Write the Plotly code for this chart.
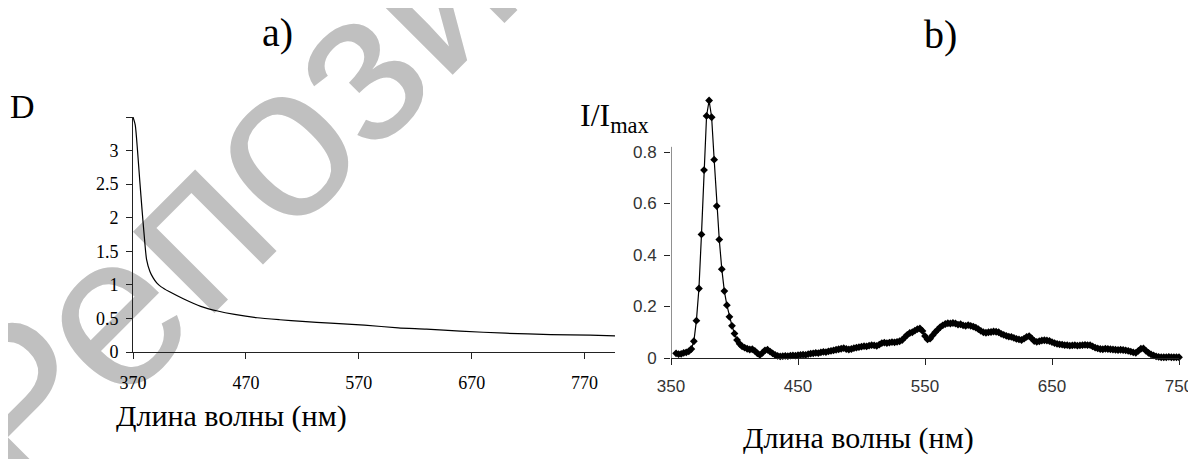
import plotly.graph_objects as go

# page body has an 8px margin: offset everything so it lands where intended
OFF = 8
W, H = 1196 - OFF, 459 - OFF

# ---- panel a) absorption ----
wl_a = [370, 372, 374, 376, 378, 380, 382, 385, 388, 391,
        395, 402, 415, 430, 445, 460, 480, 500, 520, 545,
        575, 605, 630, 660, 700, 740, 775, 797]
d_a = [3.5, 3.38, 3.0, 2.55, 2.12, 1.72, 1.38, 1.2, 1.1, 1.03,
       0.97, 0.90, 0.79, 0.68, 0.61, 0.56, 0.51, 0.48, 0.455, 0.43,
       0.40, 0.36, 0.34, 0.31, 0.28, 0.26, 0.25, 0.24]
ticks_a_x = [370, 470, 570, 670, 770]
ticks_a_y = [0, 0.5, 1, 1.5, 2, 2.5, 3, 3.5]
labels_a_y = ["0", "0.5", "1", "1.5", "2", "2.5", "3", ""]

# ---- panel b) luminescence ----
wl_b = list(range(354, 751, 2))
i_b = [
    0.018, 0.015, 0.016, 0.020, 0.022, 0.026, 0.035, 0.065, 0.145, 0.270,
    0.480, 0.730, 0.940, 1.000, 0.935, 0.770, 0.590, 0.460, 0.345, 0.260,
    0.205, 0.160, 0.125, 0.095, 0.070, 0.055, 0.045, 0.040, 0.036, 0.033,
    0.034, 0.028, 0.018, 0.012, 0.020, 0.030, 0.032, 0.025, 0.018, 0.012,
    0.008, 0.006, 0.007, 0.008, 0.007, 0.009, 0.010, 0.009, 0.011, 0.012,
    0.013, 0.012, 0.015, 0.017, 0.018, 0.020, 0.019, 0.022, 0.024, 0.023,
    0.026, 0.028, 0.030, 0.032, 0.034, 0.036, 0.038, 0.035, 0.033, 0.035,
    0.038, 0.040, 0.042, 0.044, 0.046, 0.045, 0.048, 0.050, 0.049, 0.047,
    0.052, 0.058, 0.060, 0.058, 0.060, 0.062, 0.061, 0.063, 0.065, 0.070,
    0.080, 0.090, 0.097, 0.100, 0.106, 0.112, 0.115, 0.105, 0.085, 0.072,
    0.075, 0.088, 0.100, 0.110, 0.120, 0.127, 0.132, 0.135, 0.134, 0.136,
    0.134, 0.130, 0.131, 0.127, 0.125, 0.128, 0.125, 0.122, 0.118, 0.112,
    0.105, 0.100, 0.098, 0.100, 0.101, 0.103, 0.102, 0.100, 0.094, 0.090,
    0.086, 0.083, 0.082, 0.078, 0.074, 0.072, 0.070, 0.075, 0.082, 0.085,
    0.076, 0.066, 0.063, 0.065, 0.068, 0.069, 0.068, 0.066, 0.062, 0.058,
    0.055, 0.053, 0.052, 0.050, 0.050, 0.048, 0.049, 0.050, 0.048, 0.049,
    0.050, 0.051, 0.050, 0.050, 0.045, 0.040, 0.037, 0.035, 0.034, 0.036,
    0.035, 0.034, 0.033, 0.032, 0.031, 0.032, 0.031, 0.030, 0.028, 0.025,
    0.022, 0.020, 0.028, 0.036, 0.037, 0.028, 0.020, 0.014, 0.010, 0.006,
    0.004, 0.003, 0.003, 0.003, 0.004, 0.003, 0.003, 0.003, 0.003,
]
assert len(wl_b) == len(i_b)
ticks_b_x = [350, 450, 550, 650, 750]
ticks_b_y = [0, 0.2, 0.4, 0.6, 0.8]

SERIF = "Liberation Serif, Times New Roman, serif"
SANS = "Liberation Sans, Arial, sans-serif"


def px(x):
    return (x - OFF) / W


def py(y):
    return 1 - (y - OFF) / H


fig = go.Figure()
fig.add_trace(go.Scatter(x=wl_a, y=d_a, mode="lines",
                         line=dict(color="black", width=1.2, shape="spline", smoothing=0.6),
                         xaxis="x", yaxis="y", showlegend=False))
fig.add_trace(go.Scatter(x=wl_b, y=i_b, mode="lines+markers",
                         line=dict(color="black", width=1.2),
                         marker=dict(symbol="diamond", size=6, color="black"),
                         cliponaxis=False,
                         xaxis="x2", yaxis="y2", showlegend=False))

axis_common = dict(showgrid=False, zeroline=False, ticks="outside", ticklen=6,
                   tickcolor="#222", tickwidth=1, fixedrange=True, automargin=False,
                   ticklabeloverflow="allow")

fig.update_layout(
    template="none",
    width=W, height=H,
    margin=dict(l=0, r=0, t=0, b=0, pad=0),
    paper_bgcolor="white", plot_bgcolor="rgba(0,0,0,0)",
    xaxis=dict(domain=[px(133), px(615)], range=[370, 797], tickvals=ticks_a_x,
               showline=True, linecolor="#222", linewidth=1, anchor="y",
               tickfont=dict(family=SERIF, size=18, color="black"),
               ticklabelstandoff=8, **axis_common),
    yaxis=dict(domain=[py(352), py(117)], range=[0, 3.5], tickvals=ticks_a_y,
               ticktext=labels_a_y, showline=True, linecolor="#222", linewidth=1,
               anchor="x", tickfont=dict(family=SERIF, size=18, color="black"),
               ticklabelstandoff=4, **axis_common),
    xaxis2=dict(domain=[px(671), px(1179)], range=[350, 750], tickvals=ticks_b_x,
                showline=True, linecolor="#222", linewidth=1, anchor="y2",
                tickfont=dict(family=SANS, size=17, color="#333"),
                ticklabelstandoff=7, **axis_common),
    yaxis2=dict(domain=[py(358), py(100.5)], range=[0, 1], tickvals=ticks_b_y,
                showline=False, anchor="x2",
                tickfont=dict(family=SANS, size=17, color="#333"),
                ticklabelstandoff=4, **axis_common),
)

# right y axis line (stops at ~0.82)
fig.add_shape(type="line", xref="x2", yref="y2", x0=350, x1=350, y0=0, y1=0.82,
              line=dict(color="#222", width=1), layer="above")

# watermark behind everything
fig.add_shape(type="rect", xref="paper", yref="paper",
              x0=px(363), x1=px(463), y0=py(28), y1=py(-72),
              line=dict(width=0), fillcolor="rgba(0,0,0,0)", layer="below",
              label=dict(text="Репозиторий", textangle=-45, textposition="middle center",
                         font=dict(family=SANS, size=218, color="#c0c0c0")))

annots = [
    dict(text="a)", x=px(277), y=py(32), size=40),
    dict(text="b)", x=px(940), y=py(35), size=40),
    dict(text="D", x=px(22), y=py(106), size=34),
    dict(text="I/I<sub>max</sub>", x=px(614), y=py(117), size=32),
    dict(text="Длина волны (нм)", x=px(231), y=py(416), size=30),
    dict(text="Длина волны (нм)", x=px(858), y=py(438), size=30),
]
for a in annots:
    fig.add_annotation(text=a["text"], x=a["x"], y=a["y"], xref="paper", yref="paper",
                       xanchor="center", yanchor="middle", showarrow=False,
                       font=dict(family=SERIF, size=a["size"], color="black"))

fig.write_html("out.html")
